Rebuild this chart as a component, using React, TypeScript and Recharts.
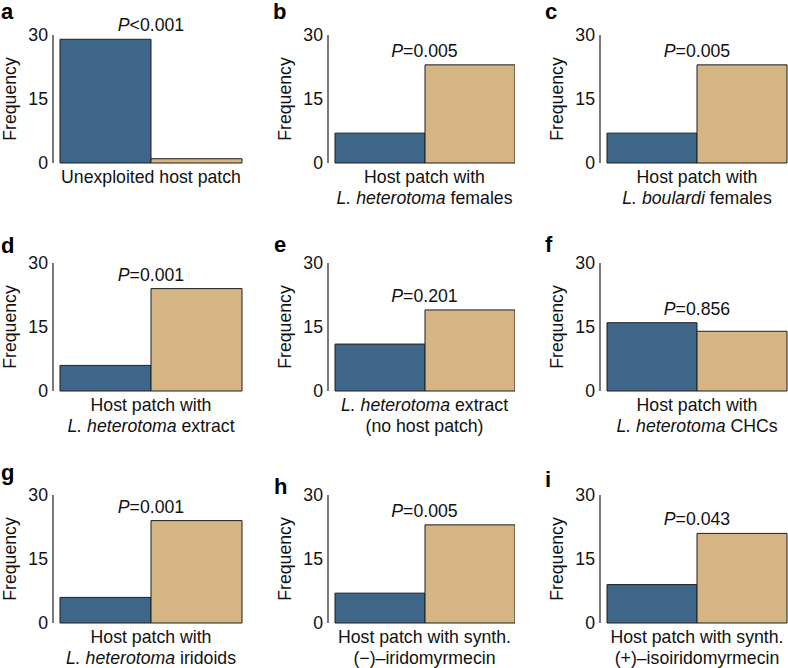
import React from 'react';
import { BarChart, Bar, XAxis, YAxis, ReferenceDot } from 'recharts';

const FONT = '"Liberation Sans", Arial, Helvetica, sans-serif';
const BLUE = '#3e6689';
const TAN = '#d4b583';
const EDGE = '#1e1e1e';
const INK = '#111111';

// ---- data ----
const panelLetters = ['a', 'b', 'c', 'd', 'e', 'f', 'g', 'h', 'i'];
const conditionLines: string[][] = [
  ['Unexploited host patch'],
  ['Host patch with', '*L. heterotoma* females'],
  ['Host patch with', '*L. boulardi* females'],
  ['Host patch with', '*L. heterotoma* extract'],
  ['*L. heterotoma* extract', '(no host patch)'],
  ['Host patch with', '*L. heterotoma* CHCs'],
  ['Host patch with', '*L. heterotoma* iridoids'],
  ['Host patch with synth.', '(\u2212)\u2013iridomyrmecin'],
  ['Host patch with synth.', '(+)\u2013isoiridomyrmecin'],
];
const blueValues = [29, 7, 7, 6, 11, 16, 6, 7, 9];
const tanValues = [1, 23, 23, 24, 19, 14, 24, 23, 21];
const pValues = ['<0.001', '=0.005', '=0.005', '=0.001', '=0.201', '=0.856', '=0.001', '=0.005', '=0.043'];
const yTicks = [0, 15, 30];
const yDomain: [number, number] = [0, 30];

// ---- layout ----
const COLS = [
  { axisX: 53, right: 242 },
  { axisX: 328, right: 514 },
  { axisX: 600, right: 787 },
];
const ROW_TOPS = [35, 263, 495];
const PLOT_H = 128;
const YW = 55;
const MT = 30;
const XH = 52;
const FS = 17.7;

const LETTER_POS = [
  [1, 19], [273, 19], [545, 19],
  [1, 253], [274, 252], [545, 252],
  [1, 480], [274, 494], [545, 487],
];

function rich(text: string) {
  const parts = text.split('*');
  return parts.map((s, i) =>
    s === '' ? null : (
      <tspan key={i} fontStyle={i % 2 === 1 ? 'italic' : 'normal'}>
        {s}
      </tspan>
    )
  );
}

const renderTick = (props: any) => {
  const { x, y, payload } = props;
  const lines = String(payload.value).split('\n');
  return (
    <g>
      {lines.map((ln, i) => (
        <text
          key={i}
          x={x}
          y={y + 20 + i * 21}
          textAnchor="middle"
          fontSize={FS}
          fontFamily={FONT}
          fill={INK}
        >
          {rich(ln)}
        </text>
      ))}
    </g>
  );
};

const makePLabel = (p: string) => (props: any) => {
  const vb = props.viewBox || {};
  const x = vb.x ?? 0;
  const y = vb.y ?? 0;
  return (
    <text x={x} y={y - 8} textAnchor="middle" fontSize={FS} fontFamily={FONT} fill={INK}>
      <tspan fontStyle="italic">P</tspan>
      {p}
    </text>
  );
};

const freqLabel = (props: any) => {
  const vb = props.viewBox || { x: 0, y: MT, width: YW, height: PLOT_H };
  const cx = vb.x + vb.width - 43;
  const cy = vb.y + vb.height / 2;
  return (
    <text
      x={cx}
      y={cy}
      transform={`rotate(-90 ${cx} ${cy})`}
      textAnchor="middle"
      dominantBaseline="central"
      fontSize={FS}
      fontFamily={FONT}
      fill={INK}
    >
      Frequency
    </text>
  );
};

function Panel({ idx }: { idx: number }) {
  const col = COLS[idx % 3];
  const rowTop = ROW_TOPS[Math.floor(idx / 3)];
  const left = col.axisX - YW;
  const top = rowTop - MT;
  const width = col.right - left + 1;
  const height = MT + PLOT_H + XH;
  const name = conditionLines[idx].join('\n');
  const data = [{ name, blue: blueValues[idx], tan: tanValues[idx] }];
  const maxV = Math.max(blueValues[idx], tanValues[idx]);
  return (
    <div style={{ position: 'absolute', left, top, width, height }}>
      <BarChart
        width={width}
        height={height}
        data={data}
        margin={{ top: MT, right: 1, bottom: 0, left: 0 }}
        barGap={0}
        barCategoryGap={0}
      >
        <XAxis
          dataKey="name"
          type="category"
          axisLine={false}
          tickLine={false}
          tickSize={0}
          tickMargin={0}
          height={XH}
          padding={{ left: 7, right: 0 }}
          interval={0}
          tick={renderTick}
        />
        <YAxis
          type="number"
          domain={yDomain}
          ticks={yTicks}
          interval={0}
          width={YW}
          tickLine={false}
          tickSize={0}
          tickMargin={5}
          axisLine={{ stroke: '#222', strokeWidth: 1.2 }}
          tick={{ fill: INK, fontSize: FS, fontFamily: FONT }}
          label={freqLabel}
        />
        <Bar dataKey="blue" fill={BLUE} stroke={EDGE} strokeWidth={1} isAnimationActive={false} />
        <Bar dataKey="tan" fill={TAN} stroke={EDGE} strokeWidth={1} isAnimationActive={false} />
        <ReferenceDot
          x={name}
          y={maxV}
          r={0}
          fill="none"
          stroke="none"
          label={makePLabel(pValues[idx])}
        />
      </BarChart>
    </div>
  );
}

export default function App() {
  return (
    <div
      style={{
        position: 'fixed',
        left: 0,
        top: 0,
        width: 788,
        height: 668,
        overflow: 'hidden',
        background: '#fff',
      }}
    >
      {panelLetters.map((_, i) => (
        <Panel key={i} idx={i} />
      ))}
      <svg
        width={788}
        height={668}
        style={{ position: 'absolute', left: 0, top: 0, pointerEvents: 'none' }}
      >
        {panelLetters.map((l, i) => (
          <text
            key={l}
            x={LETTER_POS[i][0]}
            y={LETTER_POS[i][1]}
            fontSize={22}
            fontWeight="bold"
            fontFamily={FONT}
            fill="#000"
          >
            {l}
          </text>
        ))}
      </svg>
    </div>
  );
}
